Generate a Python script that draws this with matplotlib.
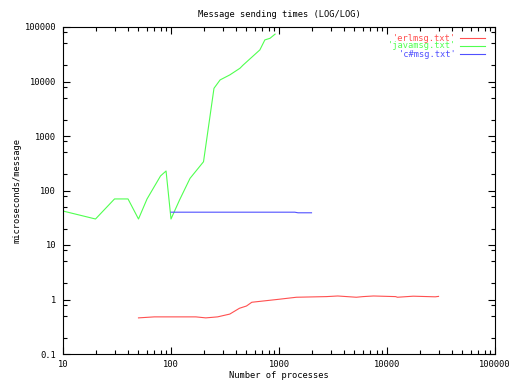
import matplotlib
matplotlib.use("Agg")
import matplotlib.pyplot as plt
from matplotlib.ticker import LogLocator, NullFormatter, FixedLocator, FixedFormatter

erl_x = [50, 70, 170, 210, 270, 350, 430, 500, 560, 1000, 1450, 2750, 3500,
         5200, 6000, 7500, 12000, 12500, 17500, 28000, 30000]
erl_y = [0.46, 0.48, 0.48, 0.46, 0.48, 0.54, 0.69, 0.76, 0.89, 1.01, 1.10,
         1.13, 1.16, 1.10, 1.13, 1.16, 1.13, 1.10, 1.15, 1.12, 1.14]

java_x = [10, 20, 30, 40, 50, 60, 80, 90, 100, 120, 150, 200, 250, 285, 350,
          435, 465, 665, 740, 825, 920]
java_y = [42, 30, 70, 70, 30, 70, 185, 228, 30, 67, 167, 337, 7500, 10700,
          13200, 17500, 20000, 38000, 58000, 62000, 74000]

cs_x = [100, 1400, 1500, 2000]
cs_y = [40, 40, 39, 39]

series = [
    ("'erlmsg.txt'", erl_x, erl_y, "#ff5050"),
    ("'javamsg.txt'", java_x, java_y, "#50ff50"),
    ("'c#msg.txt'", cs_x, cs_y, "#5050ff"),
]

y_ticks = [0.1, 1, 10, 100, 1000, 10000, 100000]
y_labels = ["0.1", "1", "10", "100", "1000", "10000", "100000"]
x_ticks = [10, 100, 1000, 10000, 100000]
x_labels = ["10", "100", "1000", "10000", "100000"]

font = "DejaVu Sans Mono"
fs = 6.3

fig = plt.figure(figsize=(5.12, 3.84), dpi=100)
ax = fig.add_axes([63 / 512, 30 / 384, 432 / 512, 327 / 384])

for label, xs, ys, color in series:
    ax.plot(xs, ys, color=color, lw=0.8)

ax.set_xscale("log")
ax.set_yscale("log")
ax.set_xlim(10, 100000)
ax.set_ylim(0.1, 100000)

ax.xaxis.set_major_locator(FixedLocator(x_ticks))
ax.xaxis.set_major_formatter(FixedFormatter(x_labels))
ax.yaxis.set_major_locator(FixedLocator(y_ticks))
ax.yaxis.set_major_formatter(FixedFormatter(y_labels))
ax.xaxis.set_minor_locator(LogLocator(base=10, subs=range(2, 10), numticks=20))
ax.yaxis.set_minor_locator(LogLocator(base=10, subs=[2, 5, 8], numticks=20))
ax.xaxis.set_minor_formatter(NullFormatter())
ax.yaxis.set_minor_formatter(NullFormatter())

ax.tick_params(which="both", direction="in", top=True, right=True,
               width=0.8, colors="black")
ax.tick_params(which="major", length=5)
ax.tick_params(which="minor", length=3)
ax.tick_params(axis="y", pad=5)
ax.tick_params(axis="x", pad=4)
for lab in ax.get_xticklabels() + ax.get_yticklabels():
    lab.set_fontfamily(font)
    lab.set_fontsize(fs)
for sp in ax.spines.values():
    sp.set_linewidth(0.8)

ax.set_title("Message sending times (LOG/LOG)", fontfamily=font,
             fontsize=fs, pad=7)
ax.set_xlabel("Number of processes", fontfamily=font, fontsize=fs, labelpad=2)
ax.set_ylabel("microseconds/message", fontfamily=font, fontsize=fs,
              labelpad=2)

# gnuplot style key: right aligned text, line sample on the right
rows = [0.966, 0.942, 0.917]
for (label, xs, ys, color), ry in zip(series, rows):
    ax.text(0.910, ry, label, transform=ax.transAxes, ha="right",
            va="center", color=color, fontfamily=font, fontsize=fs)
    ax.plot([0.919, 0.977], [ry, ry], transform=ax.transAxes,
            color=color, lw=0.8)

fig.savefig("out.png", dpi=100)
